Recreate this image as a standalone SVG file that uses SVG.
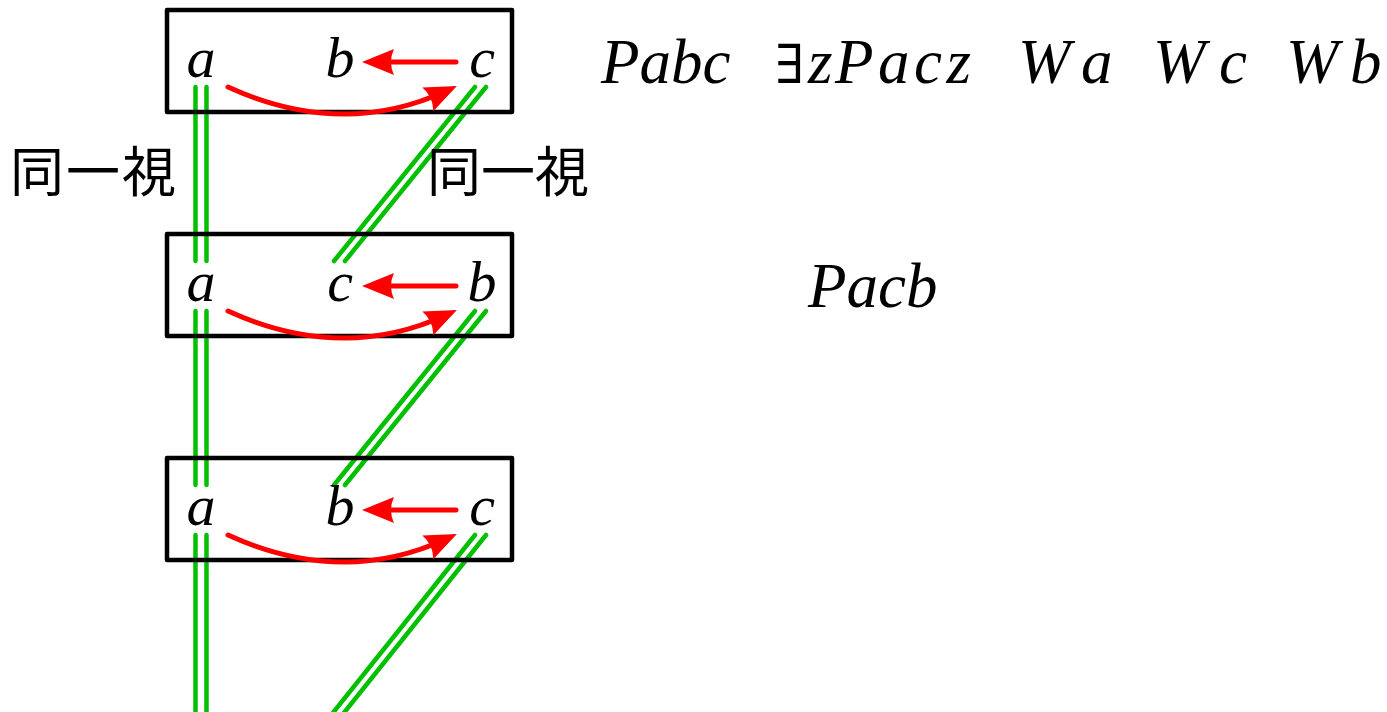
<svg xmlns="http://www.w3.org/2000/svg" width="1387" height="712" viewBox="0 0 1387 712">
<style>
.box{fill:none;stroke:#000;stroke-width:4.5;stroke-linejoin:round}
.var{font-family:"Liberation Serif",serif;font-style:italic;font-size:58px;fill:#000;text-anchor:middle}
.math{font-family:"Liberation Serif",serif;font-style:italic;font-size:63px;fill:#000}
.ex{font-family:"DejaVu Serif",serif;font-style:normal;font-size:54px;fill:#000}
.jp{font-family:"Noto Sans CJK JP","Noto Sans CJK SC",sans-serif;font-size:54px;fill:#000}
.g{stroke:#00c000;stroke-width:4.5;stroke-linecap:round;fill:none}
.r{stroke:#ff0000;stroke-width:5;stroke-linecap:round;fill:none;marker-end:url(#ah)}
</style>
<defs>
<marker id="ah" markerUnits="userSpaceOnUse" viewBox="-34 -15 36 30" refX="-12" refY="0" markerWidth="36" markerHeight="30" orient="auto">
<path d="M0,0 L-32,-13 Q-26,0 -32,13 Z" fill="#ff0000"/>
</marker>
</defs>
<g id="connectors">
<path class="g" d="M195.5,87 V261 M206.5,87 V261"/>
<path class="g" d="M195.5,311 V485 M206.5,311 V485"/>
<path class="g" d="M195.5,535 V714 M206.5,535 V714"/>
<path class="g" d="M475,87 L334,261 M486,87 L345,261"/>
<path class="g" d="M475,311 L334,485 M486,311 L345,485"/>
<path class="g" d="M475,535 L332,714 M486,535 L343,714"/>
</g>
<g id="box1">
<rect class="box" x="167" y="10" width="345" height="102"/>
<text class="var" x="201" y="77">a</text>
<text class="var" x="340" y="77">b</text>
<text class="var" x="482" y="77">c</text>
<path class="r" d="M456,62 L374,62"/>
<path class="r" d="M228,87 Q342,139 446,91"/>
</g>
<g id="box2">
<rect class="box" x="167" y="234" width="345" height="102"/>
<text class="var" x="201" y="301">a</text>
<text class="var" x="340" y="301">c</text>
<text class="var" x="482" y="301">b</text>
<path class="r" d="M456,286 L374,286"/>
<path class="r" d="M228,311 Q342,363 446,315"/>
</g>
<g id="box3">
<rect class="box" x="167" y="458" width="345" height="102"/>
<text class="var" x="201" y="525">a</text>
<text class="var" x="340" y="525">b</text>
<text class="var" x="482" y="525">c</text>
<path class="r" d="M456,510 L374,510"/>
<path class="r" d="M228,535 Q342,587 446,539"/>
</g>
<g id="label-left"><text class="jp" x="10" y="192" textLength="166" lengthAdjust="spacing">同一視</text></g>
<g id="label-right"><text class="jp" x="427" y="192">同一視</text></g>
<g id="formulas">
<text class="math" x="601" y="83">Pabc</text>
<text class="ex" x="775" y="83">∃</text>
<text class="math" x="808" y="83">z</text>
<text class="math" x="835" y="83" textLength="136" lengthAdjust="spacing">Pacz</text>
<text class="math" x="1018" y="83">W</text>
<text class="math" x="1081" y="83">a</text>
<text class="math" x="1153" y="83">W</text>
<text class="math" x="1219" y="83">c</text>
<text class="math" x="1286" y="83">W</text>
<text class="math" x="1350" y="83">b</text>
<text class="math" x="808" y="307">Pacb</text>
</g>
</svg>
